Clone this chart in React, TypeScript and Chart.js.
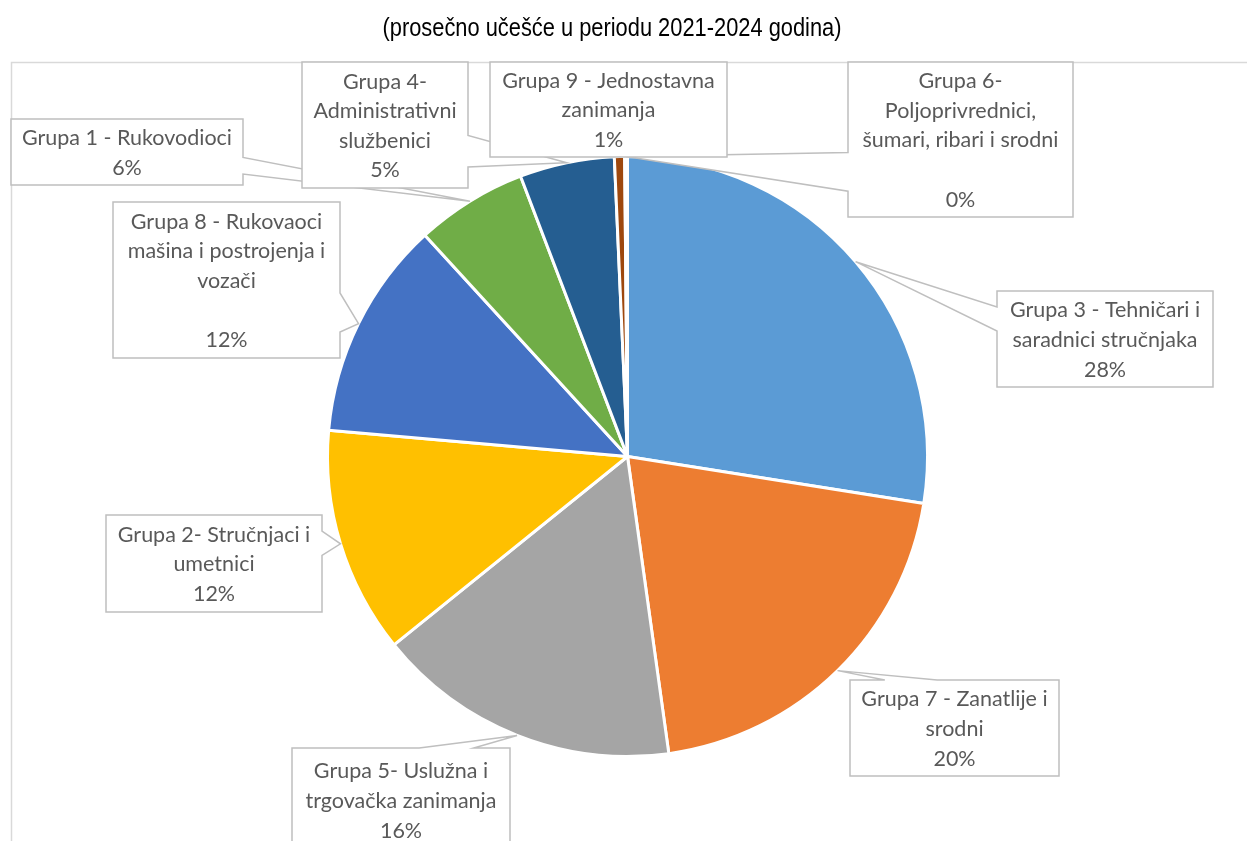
import React, { useEffect, useRef } from "react";
import { Chart, registerables } from "chart.js";

Chart.register(...registerables);

// ---- data ----
const categories: string[] = [
  "Grupa 3 - Tehničari i saradnici stručnjaka",
  "Grupa 7 - Zanatlije i srodni",
  "Grupa 5- Uslužna i trgovačka zanimanja",
  "Grupa 2- Stručnjaci i umetnici",
  "Grupa 8 - Rukovaoci mašina i postrojenja i vozači",
  "Grupa 1 - Rukovodioci",
  "Grupa 4- Administrativni službenici",
  "Grupa 9 - Jednostavna zanimanja",
  "Grupa 6- Poljoprivrednici, šumari, ribari i srodni",
];
const shares: number[] = [27.5, 20.3, 16.4, 12.2, 11.8, 6.0, 5.1, 0.55, 0.15];
const labelLines: string[][] = [
  ["Grupa 3 - Tehničari i", "saradnici stručnjaka"],
  ["Grupa 7 - Zanatlije i", "srodni"],
  ["Grupa 5- Uslužna i", "trgovačka zanimanja"],
  ["Grupa 2- Stručnjaci i", "umetnici"],
  ["Grupa 8 - Rukovaoci", "mašina i postrojenja i", "vozači", ""],
  ["Grupa 1 - Rukovodioci"],
  ["Grupa 4-", "Administrativni", "službenici"],
  ["Grupa 9 - Jednostavna", "zanimanja"],
  ["Grupa 6-", "Poljoprivrednici,", "šumari, ribari i srodni", ""],
];
const titleText = "(prosečno učešće u periodu 2021-2024 godina)";

// ---- styles / layout ----
const colors = [
  "#5B9BD5",
  "#ED7D31",
  "#A5A5A5",
  "#FFC000",
  "#4472C4",
  "#70AD47",
  "#255E91",
  "#9E480E",
  "#636363",
];
// label box rectangles [x1, y1, x2, y2]
const boxes: number[][] = [
  [997, 291, 1213, 387],
  [850, 680, 1059, 776],
  [292, 748, 510, 852],
  [106, 515, 322, 612],
  [113, 202, 340, 358],
  [11, 119, 243, 185],
  [302, 62, 468, 188],
  [490, 62, 727, 157],
  [848, 62, 1073, 217],
];
const drawOrder = [8, 0, 1, 2, 3, 4, 5, 6, 7];
const LINE_H = 29.6;
const LABEL_FONT = "21.5px Lato, 'Noto Sans', sans-serif";

const calloutPlugin = {
  id: "callouts",
  afterDraw(chart: any) {
    const ctx = chart.ctx as CanvasRenderingContext2D;
    const meta = chart.getDatasetMeta(0);
    const total = shares.reduce((a, b) => a + b, 0);
    ctx.save();
    for (const i of drawOrder) {
      const arc = meta.data[i];
      const p = arc.getProps(["x", "y", "startAngle", "endAngle", "outerRadius"], true);
      const mid = (p.startAngle + p.endAngle) / 2;
      const tx = p.x + Math.cos(mid) * p.outerRadius;
      const ty = p.y + Math.sin(mid) * p.outerRadius;
      const [x1, y1, x2, y2] = boxes[i];
      const w = x2 - x1;
      const h = y2 - y1;
      const cx = (x1 + x2) / 2;
      const cy = (y1 + y2) / 2;
      const dx = (tx - cx) / (w / 2);
      const dy = (ty - cy) / (h / 2);
      const inside = Math.abs(dx) <= 1 && Math.abs(dy) <= 1;
      let side = "";
      if (!inside) {
        if (Math.abs(dx) > Math.abs(dy)) side = dx < 0 ? "left" : "right";
        else side = dy < 0 ? "top" : "bottom";
      }
      const pts: number[][] = [];
      const TL = [x1, y1], TR = [x2, y1], BR = [x2, y2], BL = [x1, y2];
      const horiz = side === "top" || side === "bottom";
      const before = horiz ? tx < cx : ty < cy;
      const f1 = before ? 1 / 6 : 7 / 12;
      const f2 = before ? 5 / 12 : 5 / 6;
      pts.push(TL);
      if (side === "top") pts.push([x1 + w * f1, y1], [tx, ty], [x1 + w * f2, y1]);
      pts.push(TR);
      if (side === "right") pts.push([x2, y1 + h * f1], [tx, ty], [x2, y1 + h * f2]);
      pts.push(BR);
      if (side === "bottom") pts.push([x1 + w * f2, y2], [tx, ty], [x1 + w * f1, y2]);
      pts.push(BL);
      if (side === "left") pts.push([x1, y1 + h * f2], [tx, ty], [x1, y1 + h * f1]);
      ctx.beginPath();
      pts.forEach((pt, k) => (k === 0 ? ctx.moveTo(pt[0], pt[1]) : ctx.lineTo(pt[0], pt[1])));
      ctx.closePath();
      ctx.fillStyle = "#FFFFFF";
      ctx.fill();
      ctx.strokeStyle = "#BFBFBF";
      ctx.lineWidth = 1.5;
      ctx.lineJoin = "miter";
      ctx.stroke();

      const pct = Math.round((shares[i] / total) * 100) + "%";
      const lines = [...labelLines[i], pct];
      ctx.fillStyle = "#595959";
      ctx.font = LABEL_FONT;
      ctx.textAlign = "center";
      ctx.textBaseline = "middle";
      const n = lines.length;
      lines.forEach((ln, k) => {
        ctx.fillText(ln, cx, cy + (k - (n - 1) / 2) * LINE_H + 1);
      });
    }
    ctx.restore();
  },
};

const framePlugin = {
  id: "frame",
  beforeDraw(chart: any) {
    const ctx = chart.ctx as CanvasRenderingContext2D;
    ctx.save();
    ctx.fillStyle = "#FFFFFF";
    ctx.fillRect(0, 0, chart.width, chart.height);
    ctx.strokeStyle = "#D9D9D9";
    ctx.lineWidth = 1.5;
    ctx.strokeRect(11.5, 62.5, chart.width + 50, chart.height + 50);
    // title
    ctx.font = "26px 'Liberation Sans Narrow', 'Liberation Sans', Arial, sans-serif";
    const mw = ctx.measureText(titleText).width;
    const target = 459;
    ctx.translate(612, 29);
    ctx.scale(target / mw, 1);
    ctx.fillStyle = "#000000";
    ctx.textAlign = "center";
    ctx.textBaseline = "middle";
    ctx.fillText(titleText, 0, 0);
    ctx.restore();
  },
};

export default function App() {
  const ref = useRef<HTMLCanvasElement | null>(null);
  useEffect(() => {
    if (!ref.current) return;
    const chart = new Chart(ref.current, {
      type: "pie",
      data: {
        labels: categories,
        datasets: [
          {
            data: shares,
            backgroundColor: colors,
            borderColor: "#FFFFFF",
            borderWidth: 3,
          },
        ],
      },
      options: {
        animation: false,
        responsive: false,
        devicePixelRatio: 1,
        layout: { padding: { left: 326, right: 318, top: 155, bottom: 83 } },
        plugins: {
          legend: { display: false },
          tooltip: { enabled: false },
          title: { display: false },
        },
      },
      plugins: [framePlugin, calloutPlugin],
    });
    return () => chart.destroy();
  }, []);
  return (
    <div style={{ position: "absolute", left: 0, top: 0, width: 1247, height: 841, background: "#fff" }}>
      <canvas ref={ref} width={1247} height={841} style={{ display: "block" }} />
    </div>
  );
}
